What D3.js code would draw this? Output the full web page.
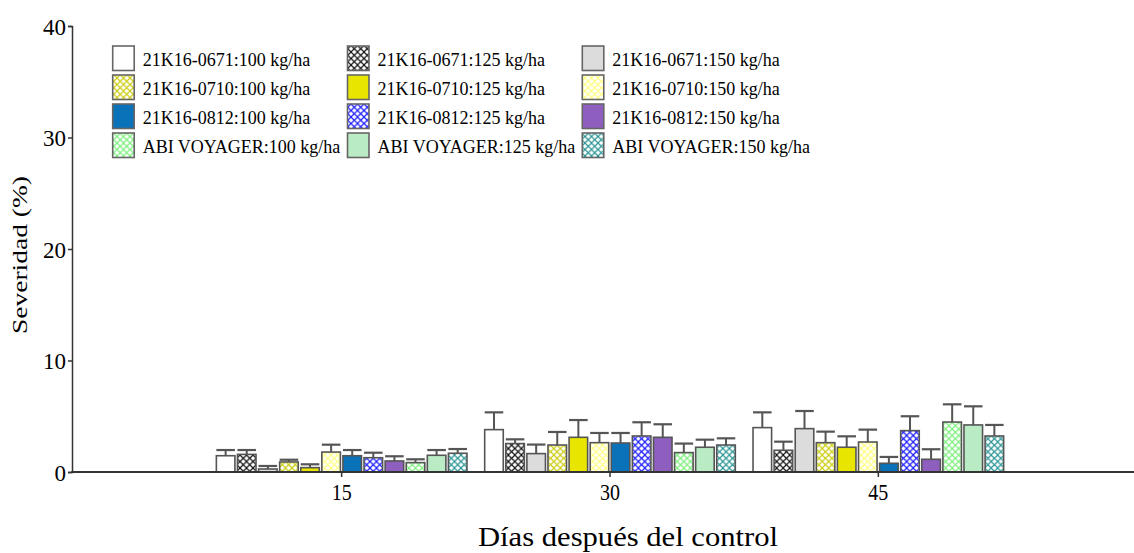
<!DOCTYPE html>
<html>
<head>
<meta charset="utf-8">
<script src="https://cdn.jsdelivr.net/npm/d3@7"></script>
<style>
  html, body { margin: 0; padding: 0; background: #fff; }
  svg { display: block; }
  svg text { font-family: "Liberation Serif", "Times New Roman", serif !important; }
</style>
</head>
<body>
<svg id="chart" width="1134" height="553"></svg>
<script>
// Days after control (x categories)
const days = ["15", "30", "45"];

// Treatments (line : dose)
const treatments = [
  "21K16-0671:100 kg/ha", "21K16-0671:125 kg/ha", "21K16-0671:150 kg/ha",
  "21K16-0710:100 kg/ha", "21K16-0710:125 kg/ha", "21K16-0710:150 kg/ha",
  "21K16-0812:100 kg/ha", "21K16-0812:125 kg/ha", "21K16-0812:150 kg/ha",
  "ABI VOYAGER:100 kg/ha", "ABI VOYAGER:125 kg/ha", "ABI VOYAGER:150 kg/ha"
];

// Mean severity (%) per treatment, one array per day
const severity15 = [1.46, 1.58, 0.27, 0.90, 0.39, 1.79, 1.46, 1.28, 0.99, 0.84, 1.50, 1.68];
const severity30 = [3.80, 2.55, 1.65, 2.42, 3.11, 2.63, 2.60, 3.23, 3.11, 1.74, 2.22, 2.42];
const severity45 = [3.98, 1.95, 3.89, 2.63, 2.22, 2.69, 0.78, 3.71, 1.14, 4.48, 4.22, 3.23];

// Standard error per treatment, one array per day
const error15 = [0.51, 0.39, 0.27, 0.20, 0.30, 0.66, 0.51, 0.45, 0.42, 0.30, 0.47, 0.38];
const error30 = [1.55, 0.38, 0.81, 1.17, 1.55, 0.87, 0.90, 1.23, 1.17, 0.81, 0.68, 0.60];
const error45 = [1.37, 0.77, 1.58, 0.99, 0.98, 1.11, 0.57, 1.29, 0.90, 1.59, 1.67, 0.99];

// Y axis ticks
const yTicks = [0, 10, 20, 30, 40];

const severityByDay = { "15": severity15, "30": severity30, "45": severity45 };
const errorByDay = { "15": error15, "30": error30, "45": error45 };

// Fill for each treatment: solid colour or a cross-hatch of a colour on white
const fills = [
  { solid: "#ffffff" },
  { hatch: "#111111" },
  { solid: "#dcdcdc" },
  { hatch: "#cccc10" },
  { solid: "#e8e600" },
  { hatch: "#ffff80" },
  { solid: "#0a72b8" },
  { hatch: "#1a1aff" },
  { solid: "#8f5fc0" },
  { hatch: "#7cf07c" },
  { solid: "#b9ebc5" },
  { hatch: "#2a9595" }
];

const serif = '"Liberation Serif", "Times New Roman", serif';
const textInk = "#000";

const svg = d3.select("#chart");
const defs = svg.append("defs");
fills.forEach((f, i) => {
  if (f.hatch) {
    const p = defs.append("pattern")
      .attr("id", "hatch" + i)
      .attr("patternUnits", "userSpaceOnUse")
      .attr("width", 6.5).attr("height", 6.5);
    p.append("rect").attr("width", 6.5).attr("height", 6.5).attr("fill", "#fff");
    p.append("path")
      .attr("d", "M-1,-1 L7.5,7.5 M7.5,-1 L-1,7.5")
      .attr("stroke", f.hatch).attr("stroke-width", 1.2).attr("fill", "none");
  }
});
const fillOf = i => fills[i].hatch ? `url(#hatch${i})` : fills[i].solid;

const axisX0 = 72, axisRight = 1134;
const y0 = 472, yTop = 26;

const x = d3.scaleBand().domain(days).range([207.5, 1012.5]).padding(0);
const xs = d3.scaleBand().domain(d3.range(treatments.length))
  .range([0, x.bandwidth()]).paddingInner(0.12).paddingOuter(0.42);
const y = d3.scaleLinear().domain([0, 40]).range([y0, yTop]);

const ink = "#555";

// Bars and error bars
days.forEach(day => {
  const g = svg.append("g").attr("transform", `translate(${x(day)},0)`);
  const vals = severityByDay[day];
  const errs = errorByDay[day];
  treatments.forEach((t, i) => {
    const bx = xs(i), bw = xs.bandwidth();
    const top = y(vals[i]), cap = y(vals[i] + errs[i]);
    g.append("line")
      .attr("x1", bx + bw / 2).attr("x2", bx + bw / 2)
      .attr("y1", top).attr("y2", cap)
      .attr("stroke", ink).attr("stroke-width", 2);
    g.append("line")
      .attr("x1", bx).attr("x2", bx + bw)
      .attr("y1", cap).attr("y2", cap)
      .attr("stroke", ink).attr("stroke-width", 2.2);
    g.append("rect")
      .attr("x", bx).attr("width", bw)
      .attr("y", top).attr("height", y0 - top)
      .attr("fill", fillOf(i))
      .attr("stroke", ink).attr("stroke-width", 1.6);
  });
});

// Y axis
const yAxis = svg.append("g")
  .attr("transform", `translate(${axisX0},0)`)
  .call(d3.axisLeft(y).tickValues(yTicks).tickSize(4).tickPadding(2));
yAxis.attr("font-family", null);
yAxis.select(".domain").attr("stroke", "#333").attr("stroke-width", 1.5);
yAxis.selectAll(".tick line").attr("stroke", "#333").attr("stroke-width", 1.5);
yAxis.selectAll(".tick text")
  .style("font-family", serif).style("font-size", "23px")
  .attr("fill", textInk)
  .attr("dy", "0.36em");

// X axis
const xAxis = svg.append("g")
  .attr("transform", `translate(0,${y0})`)
  .call(d3.axisBottom(x).tickSize(5).tickPadding(6));
xAxis.attr("font-family", null);
xAxis.select(".domain").remove();
xAxis.selectAll(".tick line").attr("stroke", "#333").attr("stroke-width", 1.5);
xAxis.selectAll(".tick text")
  .style("font-family", serif).style("font-size", "24px")
  .attr("fill", textInk)
  .attr("textLength", 20).attr("lengthAdjust", "spacingAndGlyphs");
svg.append("line")
  .attr("x1", axisX0 - 0.75).attr("x2", axisRight)
  .attr("y1", y0).attr("y2", y0)
  .attr("stroke", "#333").attr("stroke-width", 2);

// Axis titles
svg.append("text")
  .attr("transform", "translate(27,255) rotate(-90)")
  .attr("text-anchor", "middle")
  .style("font-family", serif).style("font-size", "22px")
  .attr("fill", textInk)
  .attr("textLength", 158).attr("lengthAdjust", "spacingAndGlyphs")
  .text("Severidad (%)");

svg.append("text")
  .attr("x", 628).attr("y", 546)
  .attr("text-anchor", "middle")
  .style("font-family", serif).style("font-size", "27px")
  .attr("fill", textInk)
  .attr("textLength", 300).attr("lengthAdjust", "spacingAndGlyphs")
  .text("Días después del control");

// Legend: 3 columns (dose) x 4 rows (line)
const legend = svg.append("g");
treatments.forEach((t, i) => {
  const col = i % 3, row = Math.floor(i / 3);
  const lx = 112.7 + col * 234.8, ly = 46 + row * 29;
  legend.append("rect")
    .attr("x", lx).attr("y", ly).attr("width", 21.5).attr("height", 24.5)
    .attr("fill", fillOf(i)).attr("stroke", "#666").attr("stroke-width", 1.6);
  legend.append("text")
    .attr("x", lx + 30).attr("y", ly + 20)
    .style("font-family", serif).style("font-size", "18px")
    .attr("fill", textInk)
    .text(t);
});
</script>
</body>
</html>
